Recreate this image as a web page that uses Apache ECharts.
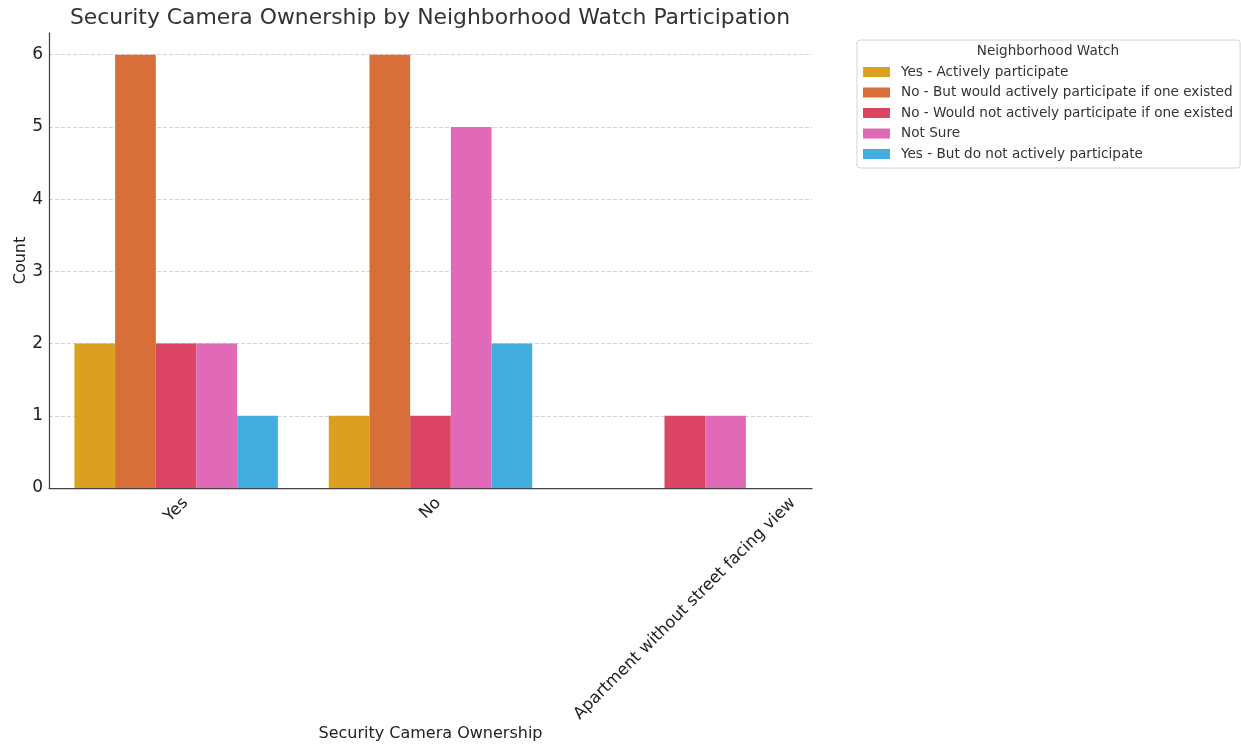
<!DOCTYPE html>
<html><head><meta charset="utf-8">
<script src="https://cdn.jsdelivr.net/npm/echarts@6/dist/echarts.min.js"></script>
<style>html,body{margin:0;padding:0;background:#fff}#c{width:1241px;height:744px}</style>
</head><body><div id="c"></div>
<script>
// ---- data ----
const categories = ['Yes', 'No', 'Apartment without street facing view'];
const hueNames = [
  'Yes - Actively participate',
  'No - But would actively participate if one existed',
  'No - Would not actively participate if one existed',
  'Not Sure',
  'Yes - But do not actively participate'
];
const activelyParticipate = [2, 1, '-'];
const wouldParticipate = [6, 6, '-'];
const wouldNotParticipate = [2, 1, 1];
const notSure = [2, 5, 1];
const notActively = [1, 2, '-'];
const yTicks = [0, 1, 2, 3, 4, 5, 6];

const titleText = 'Security Camera Ownership by Neighborhood Watch Participation';
const xName = 'Security Camera Ownership';
const yName = 'Count';
const legendTitle = 'Neighborhood Watch';

// ---- styling ----
const FONT = '"DejaVu Sans", "Liberation Sans", sans-serif';
const colors = ['#dca020', '#d86e38', '#db4563', '#e06ab8', '#42aee0'];
const seriesValues = [activelyParticipate, wouldParticipate, wouldNotParticipate, notSure, notActively];

const ctx = document.createElement('canvas').getContext('2d');
function textW(t, size) { ctx.font = size + 'px ' + FONT; return ctx.measureText(t).width; }

const LABEL_SIZE = 16.4;
const YLABEL_SIZE = 17;
const rich = {};
categories.forEach((c, i) => {
  const p = 0.5 * (textW(c, LABEL_SIZE) + 18.6);
  rich['l' + i] = { fontSize: LABEL_SIZE, fontFamily: FONT, color: '#222', padding: [p, p, 0, 0] };
});

const TITLE_SIZE = 21.9;
const LEGEND_SIZE = 13.6;
const plotLeft = 49, plotRight = 812;
const titleLeft = 430 - textW(titleText, TITLE_SIZE) / 2;

const chart = echarts.init(document.getElementById('c'), null, { renderer: 'canvas' });
chart.setOption({
  animation: false,
  backgroundColor: '#fff',
  textStyle: { fontFamily: FONT },
  title: {
    text: titleText, left: titleLeft, top: 7, padding: 0,
    textStyle: { fontSize: TITLE_SIZE, fontWeight: 'normal', color: '#333', fontFamily: FONT }
  },
  graphic: [{
    type: 'text', x: 1048, y: 51,
    style: { text: legendTitle, align: 'center', verticalAlign: 'middle', fontSize: LEGEND_SIZE, fontFamily: FONT, fill: '#333' }
  }],
  legend: {
    orient: 'vertical', left: 857, top: 40,
    padding: [25, 7, 7, 6],
    itemWidth: 27, itemHeight: 10, itemGap: 6.5, icon: 'rect',
    borderColor: '#d4d4d4', borderWidth: 1, borderRadius: 3,
    textStyle: { fontSize: LEGEND_SIZE, color: '#333', fontFamily: FONT, lineHeight: 14, padding: [0, 0, 0, 6] },
    data: hueNames
  },
  grid: { left: plotLeft, right: 1241 - plotRight, top: 33, bottom: 744 - 488, containLabel: false, outerBoundsMode: 'none' },
  xAxis: {
    type: 'category', data: categories,
    name: xName, nameLocation: 'middle', nameGap: 238, nameMoveOverlap: false,
    nameTextStyle: { fontSize: 16, color: '#222', fontFamily: FONT },
    axisLine: { show: true, lineStyle: { color: '#444', width: 1.25 } },
    axisTick: { show: true, inside: true, alignWithLabel: true, length: 4, lineStyle: { color: '#444' } },
    axisLabel: {
      interval: 0, rotate: 45, align: 'center', verticalAlign: 'middle', margin: 6,
      formatter: (v, i) => '{l' + i + '|' + v + '}', rich: rich
    },
    splitLine: { show: false }
  },
  yAxis: {
    type: 'value', min: yTicks[0], max: 6.3, interval: 1,
    name: yName, nameLocation: 'middle', nameGap: 20, nameRotate: 90, nameMoveOverlap: false,
    nameTextStyle: { fontSize: 16, color: '#222', fontFamily: FONT },
    axisLine: { show: true, lineStyle: { color: '#444', width: 1.25 } },
    axisTick: { show: false },
    axisLabel: {
      fontSize: YLABEL_SIZE, color: '#222', margin: 6, fontFamily: FONT, showMaxLabel: false,
      formatter: v => (yTicks.indexOf(v) >= 0 ? String(v) : '')
    },
    splitLine: { show: true, showMinLine: false, showMaxLine: false, lineStyle: { color: '#cfcfcf', width: 0.9, type: [4, 2] } }
  },
  series: hueNames.map((n, i) => ({
    name: n, type: 'bar', data: seriesValues[i],
    barGap: '0%', barCategoryGap: '20%',
    itemStyle: { color: colors[i] }
  }))
});
</script>
</body></html>
